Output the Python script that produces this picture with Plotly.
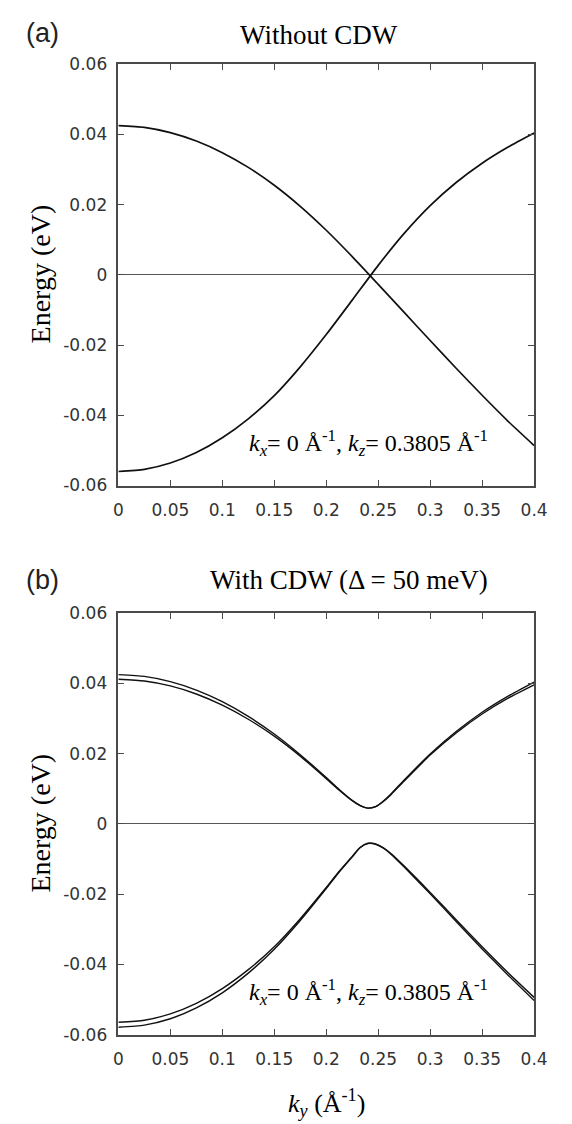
import plotly.graph_objects as go

W, H = 572, 1124

# ---------------- data ----------------
ky_a = [0, 0.025, 0.05, 0.075, 0.1, 0.125, 0.15, 0.175, 0.2, 0.225, 0.25,
        0.275, 0.3, 0.325, 0.35, 0.375, 0.4]
band1_a = [0.0425, 0.0420, 0.0405, 0.0381, 0.0348, 0.0306, 0.0255, 0.0195,
           0.0127, 0.0052, -0.0027, -0.0107, -0.0187, -0.0266, -0.0343,
           -0.0417, -0.0486]
band2_a = [-0.0560, -0.0554, -0.0536, -0.0506, -0.0464, -0.0410, -0.0344,
           -0.0262, -0.0170, -0.0072, 0.0027, 0.0118, 0.0197, 0.0263,
           0.0318, 0.0364, 0.0404]

ky_b = [0, 0.025, 0.05, 0.075, 0.1, 0.125, 0.15, 0.175, 0.2, 0.2125, 0.225,
        0.2325, 0.24, 0.2475, 0.255, 0.2625, 0.275, 0.3, 0.325, 0.35, 0.375, 0.4]
upper1_b = [0.0425, 0.0420, 0.0405, 0.0381, 0.0348, 0.0306, 0.0256, 0.0197,
            0.0132, 0.0098, 0.0067, 0.0053, 0.0045, 0.0049, 0.0065, 0.0086,
            0.0125, 0.0199, 0.0263, 0.0318, 0.0364, 0.0404]
upper2_b = [0.0412, 0.0407, 0.0393, 0.0370, 0.0338, 0.0298, 0.0250, 0.0193,
            0.0129, 0.0096, 0.0066, 0.0052, 0.0045, 0.0049, 0.0064, 0.0084,
            0.0122, 0.0196, 0.0259, 0.0313, 0.0358, 0.0396]
lower1_b = [-0.0565, -0.0559, -0.0541, -0.0511, -0.0469, -0.0415, -0.0350,
            -0.0270, -0.0181, -0.0135, -0.0093, -0.0067, -0.0055, -0.0057,
            -0.0068, -0.0085, -0.0120, -0.0195, -0.0273, -0.0350, -0.0424,
            -0.0494]
lower2_b = [-0.0579, -0.0573, -0.0555, -0.0524, -0.0481, -0.0425, -0.0357,
            -0.0275, -0.0184, -0.0137, -0.0094, -0.0068, -0.0056, -0.0058,
            -0.0069, -0.0087, -0.0123, -0.0199, -0.0278, -0.0356, -0.0431,
            -0.0503]

x_tickvals = [0, 0.05, 0.1, 0.15, 0.2, 0.25, 0.3, 0.35, 0.4]
x_ticktext = ["0", "0.05", "0.1", "0.15", "0.2", "0.25", "0.3", "0.35", "0.4"]
y_tickvals = [-0.06, -0.04, -0.02, 0, 0.02, 0.04, 0.06]
y_ticktext = ["-0.06", "-0.04", "-0.02", "0", "0.02", "0.04", "0.06"]

title_a = "Without CDW"
title_b = "With CDW (Δ = 50 meV)"
label_a = "(a)"
label_b = "(b)"
ylabel = "Energy (eV)"
xlabel = "<i>k</i><sub><i>y</i></sub> (Å<sup>-1</sup>)"
kinfo = ("<i>k</i><sub><i>x</i></sub>= 0 Å<sup>-1</sup>, "
         "<i>k</i><sub><i>z</i></sub>= 0.3805 Å<sup>-1</sup>")

# ---------------- figure ----------------
SERIF = "Liberation Serif, Times New Roman, serif"
SANS = "DejaVu Sans, sans-serif"
HELV = "Liberation Sans, Arial, sans-serif"
LINE = dict(color="#111111", width=1.7, shape="spline", smoothing=0.6)

fig = go.Figure()
for ys in (band1_a, band2_a):
    fig.add_trace(go.Scatter(x=ky_a, y=ys, mode="lines", line=LINE,
                             xaxis="x", yaxis="y", showlegend=False,
                             hoverinfo="skip"))
for ys in (upper1_b, upper2_b, lower1_b, lower2_b):
    fig.add_trace(go.Scatter(x=ky_b, y=ys, mode="lines",
                             line=dict(LINE, width=1.4),
                             xaxis="x2", yaxis="y2", showlegend=False,
                             hoverinfo="skip"))


def px(x):
    return x / W


def py(y):
    return 1 - y / H


xdom = [px(109), px(539)]
ax_common = dict(showline=True, linecolor="#4a4a4a", linewidth=1.5,
                 mirror="ticks", ticks="inside", ticklen=6, tickwidth=1.2,
                 tickcolor="#4a4a4a", showgrid=False,
                 tickfont=dict(family=SANS, size=17, color="#333333"))
xa = dict(ax_common, range=[0, 0.4], tickvals=x_tickvals, ticktext=x_ticktext,
          zeroline=False, domain=xdom, ticklabelstandoff=8)
ya = dict(ax_common, range=[-0.06, 0.06], tickvals=y_tickvals,
          ticktext=y_ticktext, zeroline=True, zerolinecolor="#555555",
          zerolinewidth=1.2, ticklabelstandoff=6)

fig.update_layout(
    width=W, height=H, margin=dict(l=0, r=0, t=0, b=0),
    paper_bgcolor="white", plot_bgcolor="white",
    xaxis=dict(xa, anchor="y"),
    yaxis=dict(ya, domain=[py(476), py(47)], anchor="x"),
    xaxis2=dict(xa, anchor="y2"),
    yaxis2=dict(ya, domain=[py(1035), py(606)], anchor="x2"),
)

ann = []


def add(text, x, y, size, family, angle=0, color="black"):
    ann.append(dict(text=text, x=px(x), y=py(y), xref="paper", yref="paper",
                    showarrow=False, xanchor="center", yanchor="middle",
                    textangle=angle,
                    font=dict(family=family, size=size, color=color)))


add(label_a, 30, 15, 27, HELV, color="#222")
add(label_b, 30, 572, 27, HELV, color="#222")
add(title_a, 317, 17, 27, SERIF)
add(title_b, 348, 572, 27, SERIF)
add(ylabel, 28, 261, 28, SERIF, angle=-90)
add(ylabel, 28, 820, 28, SERIF, angle=-90)
add(kinfo, 368, 433, 24, SERIF)
add(kinfo, 368, 992, 24, SERIF)
add(xlabel, 324, 1105, 26, SERIF)
fig.update_layout(annotations=ann)

fig.write_html("out.html")
